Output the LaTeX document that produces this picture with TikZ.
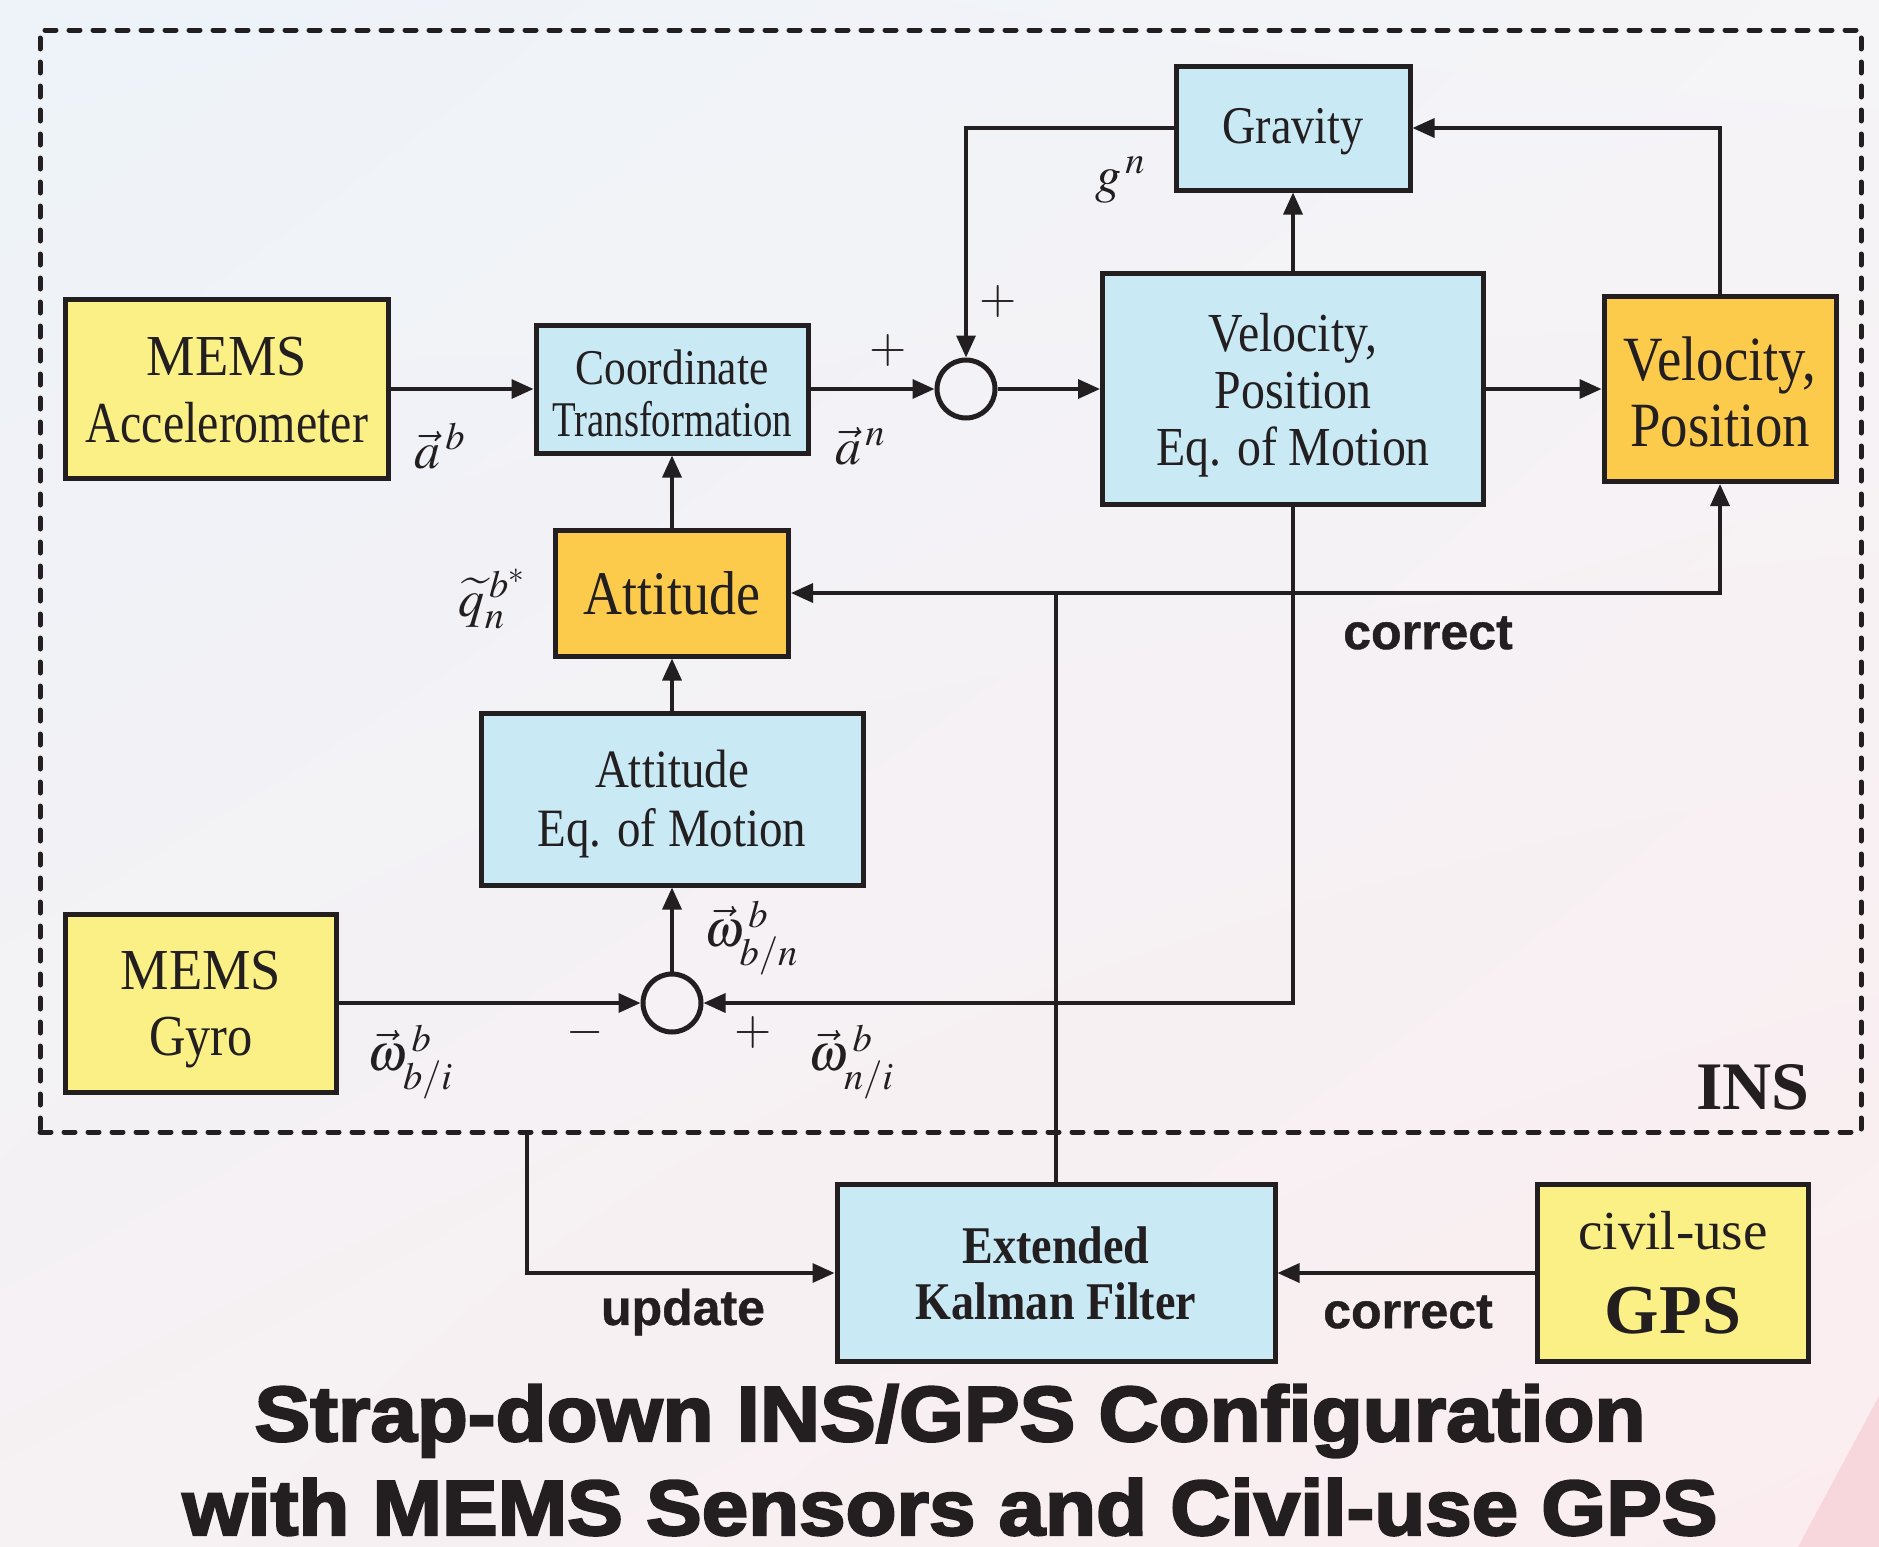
\documentclass[tikz,border=0pt]{standalone}
\usepackage{mathptmx}
\usepackage{fontspec}
\usepackage{graphicx}
\usetikzlibrary{arrows.meta,shadings}
\setmainfont{Liberation Serif}
\newfontfamily\tms[FakeStretch=0.87]{Liberation Serif}
\newfontfamily\ttl[FakeBold=3,FakeStretch=1.07]{Liberation Sans Bold}
\newfontfamily\lsb[FakeBold=0.8]{Liberation Sans Bold}
\newcommand\hsq[2]{\scalebox{#1}[1]{#2}}
\definecolor{ink}{HTML}{231F20}
\definecolor{cyanbox}{HTML}{C9E9F4}
\definecolor{yelbox}{HTML}{FAF086}
\definecolor{orgbox}{HTML}{FCCB4C}
\definecolor{bgtl}{HTML}{EDF3F9}
\definecolor{bgtr}{HTML}{F5F4F7}
\definecolor{bgbl}{HTML}{F6F1F3}
\definecolor{bgbr}{HTML}{FBEDEF}
\definecolor{pinktri}{HTML}{F8D7DC}
\begin{document}
\begin{tikzpicture}[x=1pt,y=-1pt,
  blk/.style={draw=ink,line width=5pt,inner sep=0pt},
  bluebox/.style={blk,fill=cyanbox},
  yelbox/.style={blk,fill=yelbox},
  orgbox/.style={blk,fill=orgbox},
  btext/.style={text=ink,inner sep=0pt,align=center},
  conn/.style={draw=ink,line width=3.4pt},
  arr/.style={conn,-{Triangle[length=22pt,width=19pt]}},
  sumj/.style={circle,draw=ink,line width=5pt,minimum size=58pt,inner sep=0pt},
  lbl/.style={text=ink,inner sep=0pt},
  mlbl/.style={lbl,font=\fontsize{52}{52}\selectfont},
  sgn/.style={lbl,font=\fontsize{48}{48}\selectfont},
  bword/.style={lbl,font=\lsb\fontsize{50}{50}\selectfont},
]
\useasboundingbox (0,0) rectangle (1879,1547);
\shade[upper left=bgtl, upper right=bgtr, lower left=bgbl, lower right=bgbr] (0,0) rectangle (1879,1547);
\fill[pinktri] (1798,1547) -- (1879,1396) -- (1879,1547) -- cycle;

% INS dashed frame
\node[draw=ink,line width=5pt,dash pattern=on 11pt off 13pt,line cap=round,
      minimum width=1821pt,minimum height=1102pt,inner sep=0pt] (insbox) at (950.5,581) {};
\node[lbl,font=\rmfamily\bfseries\fontsize{68}{68}\selectfont] (inslbl) at (1753,1087) {INS};

% blocks
\node[yelbox,minimum width=323pt,minimum height=179pt] (acc) at (227,389) {};
\node[btext,font=\tms\fontsize{58}{67}\selectfont,yshift=-1pt] (acct) at (acc.center)
  {\hsq{1.08}{MEMS}\\\hsq{0.95}{Accelerometer}};
\node[bluebox,minimum width=272pt,minimum height=128pt] (ct) at (672,389) {};
\node[btext,font=\tms\fontsize{50}{52}\selectfont,yshift=-4pt] (ctt) at (ct.center)
  {Coordinate\\\hsq{0.89}{Transformation}};
\node[sumj] (s1) at (966,389) {};
\node[bluebox,minimum width=234pt,minimum height=124pt] (grav) at (1293,128) {};
\node[btext,font=\tms\fontsize{53}{56}\selectfont,yshift=-4pt] (gravt) at (grav.center) {Gravity};
\node[bluebox,minimum width=381pt,minimum height=231pt] (vpe) at (1293,389) {};
\node[btext,font=\tms\fontsize{55}{57}\selectfont,yshift=-6pt] (vpet) at (vpe.center)
  {Velocity,\\Position\\Eq. of Motion};
\node[orgbox,minimum width=232pt,minimum height=185pt] (vp) at (1720,389) {};
\node[btext,font=\tms\fontsize{63}{66}\selectfont,yshift=-3pt] (vpt) at (vp.center)
  {Velocity,\\Position};
\node[orgbox,minimum width=233pt,minimum height=126pt] (att) at (672,593) {};
\node[btext,font=\tms\fontsize{62}{62}\selectfont] (attt) at (att.center) {Attitude};
\node[bluebox,minimum width=382pt,minimum height=172pt] (aeom) at (672,799) {};
\node[btext,font=\tms\fontsize{54}{59}\selectfont,yshift=-5pt] (aeomt) at (aeom.center)
  {Attitude\\Eq. of Motion};
\node[sumj] (s2) at (672,1003) {};
\node[yelbox,minimum width=271pt,minimum height=178pt] (gyro) at (201,1003) {};
\node[btext,font=\tms\fontsize{58}{66}\selectfont,yshift=-7pt] (gyrot) at (gyro.center)
  {\hsq{1.08}{MEMS}\\Gyro};
\node[bluebox,minimum width=438pt,minimum height=177pt] (ekf) at (1056,1273) {};
\node[btext,font=\tms\bfseries\fontsize{53}{56}\selectfont] (ekft) at (ekf.center)
  {Extended\\Kalman Filter};
\node[yelbox,minimum width=271pt,minimum height=177pt] (gps) at (1673,1273) {};
\node[btext,font=\rmfamily\fontsize{55}{84}\selectfont] (gpst) at (gps.center)
  {civil-use\\{\bfseries\fontsize{70}{84}\selectfont GPS}};

% connectors
\draw[arr] (acc.east) -- (ct.west);
\draw[arr] (ct.east) -- (s1.west);
\draw[arr] (s1.east) -- (vpe.west);
\draw[arr] (vpe.east) -- (vp.west);
\draw[arr] (vpe.north) -- (grav.south);
\draw[arr] (vp.north) |- (grav.east);
\draw[arr] (grav.west) -| (s1.north);
\draw[arr] (att.north) -- (ct.south);
\draw[arr] (aeom.north) -- (att.south);
\draw[arr] (s2.north) -- (aeom.south);
\draw[arr] (gyro.east) -- (s2.west);
\draw[arr] (vpe.south) |- (s2.east);
\coordinate (cj) at (ekf.north |- att.east);
\draw[conn] (ekf.north) -- (cj);
\draw[arr] (cj) -- (att.east);
\draw[arr] (cj) -| (vp.south);
\coordinate (ud) at (527,0 |- insbox.south);
\draw[arr] (ud) |- (ekf.west);
\draw[arr] (gps.west) -- (ekf.east);

% labels
\node[mlbl] (lab) at (440,446) {$\vec{a}^{\,b}$};
\node[mlbl] (lan) at (860,446) {$\vec{a}^{\,n}$};
\node[mlbl] (lgn) at (1120,180) {$g^{\,n}$};
\node[mlbl] (lq) at (492,599) {$\widetilde{q}_{n}^{\,b^{*}}$};
\node[mlbl] (lwbn) at (751,938) {$\vec{\omega}^{\,b}_{b/n}$};
\node[mlbl] (lwbi) at (410,1062) {$\vec{\omega}^{\,b}_{b/i}$};
\node[mlbl] (lwni) at (851,1062) {$\vec{\omega}^{\,b}_{n/i}$};
\node[sgn] (p1) at (888,351) {$+$};
\node[sgn] (p2) at (998,302) {$+$};
\node[sgn] (m1) at (585,1032) {$-$};
\node[sgn] (p3) at (753,1032) {$+$};
\node[bword] (corr1) at (1428,633) {correct};
\node[bword] (upd) at (683,1312) {update};
\node[bword] (corr2) at (1408,1312) {correct};

% title
\node[lbl,font=\ttl\fontsize{78}{88}\selectfont] (t1) at (950,1421) {Strap-down INS/GPS Configuration};
\node[lbl,font=\ttl\fontsize{78}{88}\selectfont] (t2) at (950,1507) {with MEMS Sensors and Civil-use GPS};
\end{tikzpicture}
\end{document}
